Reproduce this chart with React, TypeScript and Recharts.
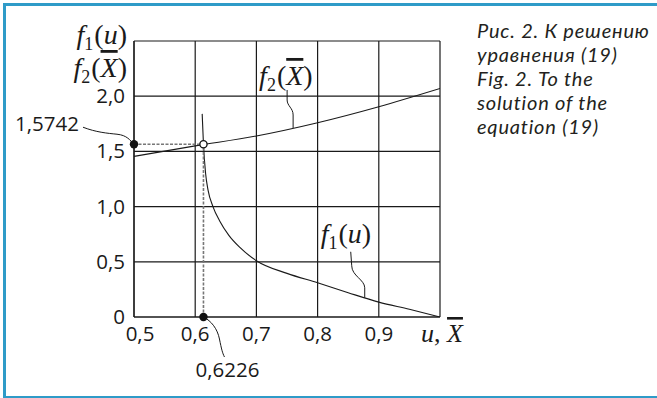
import React from "react";
import {
  LineChart,
  Line,
  XAxis,
  YAxis,
  CartesianGrid,
  ReferenceLine,
  ReferenceDot,
} from "recharts";

// values
const X_TICKS = [0.5, 0.6, 0.7, 0.8, 0.9, 1.0];
const Y_TICKS = [0, 0.5, 1.0, 1.5, 2.0, 2.5];

const F1_U = [0.6114, 0.6135, 0.617, 0.621, 0.629, 0.64, 0.655, 0.673, 0.7, 0.75, 0.8, 0.85, 0.9, 0.95, 1.0];
const F1_VAL = [1.84, 1.565, 1.3, 1.15, 1.0, 0.87, 0.74, 0.63, 0.51, 0.395, 0.31, 0.22, 0.135, 0.07, 0.0];

const F2_X = [0.5, 0.6, 0.7, 0.8, 0.9, 1.0];
const F2_VAL = [1.455, 1.55, 1.64, 1.76, 1.905, 2.07];

const ROOT_X = 0.6135;
const ROOT_Y = 1.565;
const ROOT_X_LABEL = "0,6226";
const ROOT_Y_LABEL = "1,5742";

const F1_LABEL_AT = 0.877;
const F2_LABEL_AT = 0.76;

const CAPTION = [
  "Рис. 2. К решению",
  "уравнения (19)",
  "Fig. 2. To the",
  "solution of the",
  "equation (19)",
];

const f1Data = F1_U.map((u, i) => ({ x: u, y: F1_VAL[i] }));
const f2Data = F2_X.map((x, i) => ({ x, y: F2_VAL[i] }));

const INK = "#1a1a1a";
const SANS = '"Open Sans", sans-serif';
const SERIF = '"Liberation Serif", "Times New Roman", serif';
const NUM_SIZE = 20.5;

const fmt = (v: number) => (v === 0 ? "0" : v.toFixed(1).replace(".", ","));

function interp(xs: number[], ys: number[], x: number) {
  for (let i = 0; i < xs.length - 1; i++) {
    if (x >= xs[i] && x <= xs[i + 1]) {
      const t = (x - xs[i]) / (xs[i + 1] - xs[i]);
      return ys[i] + t * (ys[i + 1] - ys[i]);
    }
  }
  return ys[ys.length - 1];
}

// f with subscript and argument, e.g. f1(u), f2(X̄)
function MathLabel({ x, y, sub, arg, bar, anchor = "start" }: any) {
  return (
    <text x={x} y={y} textAnchor={anchor} fontFamily={SERIF} fontSize={28} fill={INK}>
      <tspan fontStyle="italic">f</tspan>
      <tspan fontSize={18} dy={6}>{sub}</tspan>
      <tspan dy={-6} dx={1}>(</tspan>
      <tspan fontStyle="italic" style={bar ? { textDecoration: "overline" } : undefined}>
        {arg}
      </tspan>
      <tspan>)</tspan>
    </text>
  );
}

const YTick = ({ x, y, payload }: any) => {
  if (payload.value === 2.5) {
    return (
      <g>
        <MathLabel x={x - 7} y={y + 3} sub="1" arg="u" anchor="end" />
        <MathLabel x={x - 7} y={y + 36} sub="2" arg="X" bar anchor="end" />
      </g>
    );
  }
  return (
    <text x={x - 9} y={y + 7} textAnchor="end" fontFamily={SANS} fontSize={NUM_SIZE} fill={INK}>
      {fmt(payload.value)}
    </text>
  );
};

const XTick = ({ x, y, payload }: any) => {
  if (payload.value === 1) {
    return (
      <text x={x + 2} y={y + 25} textAnchor="middle" fontFamily={SERIF} fontSize={26} fill={INK}>
        <tspan fontStyle="italic">u</tspan>
        <tspan>, </tspan>
        <tspan fontStyle="italic" style={{ textDecoration: "overline" }}>X</tspan>
      </text>
    );
  }
  return (
    <text x={x + (payload.value === 0.5 ? 6 : 0)} y={y + 24} textAnchor="middle" fontFamily={SANS} fontSize={NUM_SIZE} fill={INK}>
      {fmt(payload.value)}
    </text>
  );
};

const YMarker = ({ cx, cy }: any) => (
  <g>
    <path
      d={`M${cx - 51},${cy - 17} C${cx - 38},${cy - 12} ${cx - 27},${cy - 11} ${cx - 17},${cy - 10} C${cx - 7},${cy - 9} ${cx - 4},${cy - 4} ${cx},${cy}`}
      fill="none"
      stroke={INK}
      strokeWidth={1}
    />
    <circle cx={cx} cy={cy} r={4.2} fill="#111" />
    <text x={cx - 55} y={cy - 13} textAnchor="end" fontFamily={SANS} fontSize={NUM_SIZE} fill={INK}>
      {ROOT_Y_LABEL}
    </text>
  </g>
);

const XMarker = ({ cx, cy }: any) => (
  <g>
    <path
      d={`M${cx},${cy} C${cx + 8},${cy + 4} ${cx + 14},${cy + 12} ${cx + 16},${cy + 22} S${cx + 19},${cy + 36} ${cx + 21},${cy + 40}`}
      fill="none"
      stroke={INK}
      strokeWidth={1}
    />
    <circle cx={cx} cy={cy} r={4.2} fill="#111" />
    <text x={cx - 8} y={cy + 60} fontFamily={SANS} fontSize={NUM_SIZE} fill={INK}>
      {ROOT_X_LABEL}
    </text>
  </g>
);

const F2Callout = ({ cx, cy }: any) => (
  <g>
    <path
      d={`M${cx},${cy} L${cx},${cy - 13} C${cx},${cy - 20} ${cx - 6},${cy - 22} ${cx - 6},${cy - 28} L${cx - 6},${cy - 38}`}
      fill="none"
      stroke={INK}
      strokeWidth={1}
    />
    <MathLabel x={cx - 34} y={cy - 43} sub="2" arg="X" bar />
  </g>
);

const F1Callout = ({ cx, cy }: any) => (
  <g>
    <path
      d={`M${cx},${cy} L${cx},${cy - 10} C${cx},${cy - 18} ${cx - 13},${cy - 22} ${cx - 13},${cy - 32} L${cx - 14},${cy - 46}`}
      fill="none"
      stroke={INK}
      strokeWidth={1}
    />
    <MathLabel x={cx - 44} y={cy - 55} sub="1" arg="u" />
  </g>
);

export default function App() {
  return (
    <div style={{ position: "fixed", left: 0, top: 0, width: 657, height: 398, overflow: "hidden", background: "#fff" }}>
      <div
        style={{
          position: "absolute",
          left: 3,
          top: 3,
          width: 720,
          height: 396,
          boxSizing: "border-box",
          borderLeft: "3px solid #2f9bc8",
          borderTop: "3px solid #2f9bc8",
          borderBottom: "3px solid #2f9bc8",
        }}
      />
      <div style={{ position: "absolute", left: 0, top: 0 }}>
        <LineChart width={657} height={398} margin={{ top: 41, right: 217, bottom: 51, left: 0 }}>
          <CartesianGrid stroke={INK} strokeWidth={1.2} />
          <XAxis
            dataKey="x"
            type="number"
            domain={[0.5, 1.0]}
            ticks={X_TICKS}
            allowDataOverflow
            height={30}
            tickSize={0}
            tickMargin={0}
            tick={<XTick />}
            axisLine={{ stroke: INK, strokeWidth: 1.2 }}
            tickLine={false}
          />
          <YAxis
            type="number"
            domain={[0, 2.5]}
            ticks={Y_TICKS}
            allowDataOverflow
            width={134}
            tickSize={0}
            tickMargin={0}
            tick={<YTick />}
            axisLine={{ stroke: INK, strokeWidth: 1.2 }}
            tickLine={false}
          />
          <Line data={f2Data} dataKey="y" type="monotone" stroke={INK} strokeWidth={1.1} dot={false} isAnimationActive={false} />
          <Line data={f1Data} dataKey="y" type="monotone" stroke={INK} strokeWidth={1.1} dot={false} isAnimationActive={false} />
          <ReferenceLine
            segment={[{ x: 0.5, y: ROOT_Y }, { x: ROOT_X, y: ROOT_Y }]}
            stroke="#777"
            strokeWidth={1.6}
            strokeDasharray="3 1.5"
          />
          <ReferenceLine
            segment={[{ x: ROOT_X, y: 0 }, { x: ROOT_X, y: ROOT_Y }]}
            stroke="#777"
            strokeWidth={1.6}
            strokeDasharray="3 1.5"
          />
          <ReferenceDot x={F2_LABEL_AT} y={interp(F2_X, F2_VAL, F2_LABEL_AT)} r={0} ifOverflow="visible" shape={<F2Callout />} />
          <ReferenceDot x={F1_LABEL_AT} y={interp(F1_U, F1_VAL, F1_LABEL_AT)} r={0} ifOverflow="visible" shape={<F1Callout />} />
          <ReferenceDot x={0.5} y={ROOT_Y} r={4} ifOverflow="visible" shape={<YMarker />} />
          <ReferenceDot x={ROOT_X} y={0} r={4} ifOverflow="visible" shape={<XMarker />} />
          <ReferenceDot x={ROOT_X} y={ROOT_Y} r={3.6} fill="#fff" stroke="#111" strokeWidth={1.3} ifOverflow="visible" />
        </LineChart>
      </div>
      <div
        style={{
          position: "absolute",
          left: 477,
          top: 18,
          fontFamily: 'Lato, "Open Sans", sans-serif',
          fontStyle: "italic",
          fontSize: 20,
          letterSpacing: 0.8,
          lineHeight: "24px",
          color: "#231f20",
          whiteSpace: "nowrap",
        }}
      >
        {CAPTION.map((line) => (
          <div key={line}>{line}</div>
        ))}
      </div>
    </div>
  );
}
